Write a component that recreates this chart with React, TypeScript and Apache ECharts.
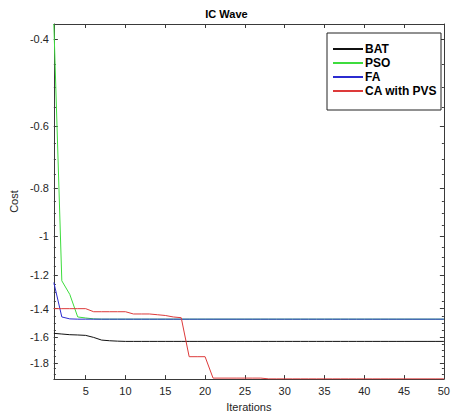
import React, { useEffect, useRef } from "react";
import * as echarts from "echarts";

const iterations = [
  1, 2, 3, 4, 5, 6, 7, 8, 9, 10, 11, 12, 13, 14, 15, 16, 17, 18, 19, 20, 21, 22, 23, 24, 25,
  26, 27, 28, 29, 30, 31, 32, 33, 34, 35, 36, 37, 38, 39, 40, 41, 42, 43, 44, 45, 46, 47, 48, 49, 50,
];

const bat = [
  -1.57, -1.575, -1.58, -1.582, -1.585, -1.6, -1.62, -1.625, -1.628, -1.63,
  -1.63, -1.63, -1.63, -1.63, -1.63, -1.63, -1.63, -1.63, -1.63, -1.63,
  -1.63, -1.63, -1.63, -1.63, -1.63, -1.63, -1.63, -1.63, -1.63, -1.63,
  -1.63, -1.63, -1.63, -1.63, -1.63, -1.63, -1.63, -1.63, -1.63, -1.63,
  -1.63, -1.63, -1.63, -1.63, -1.63, -1.63, -1.63, -1.63, -1.63, -1.63,
];

const pso = [
  -0.373, -1.23, -1.31, -1.455, -1.462, -1.468, -1.47, -1.47, -1.47, -1.47,
  -1.47, -1.47, -1.47, -1.47, -1.47, -1.47, -1.47, -1.47, -1.47, -1.47,
  -1.47, -1.47, -1.47, -1.47, -1.47, -1.47, -1.47, -1.47, -1.47, -1.47,
  -1.47, -1.47, -1.47, -1.47, -1.47, -1.47, -1.47, -1.47, -1.47, -1.47,
  -1.47, -1.47, -1.47, -1.47, -1.47, -1.47, -1.47, -1.47, -1.47, -1.47,
];

const fa = [
  -1.24, -1.455, -1.468, -1.47, -1.47, -1.47, -1.47, -1.47, -1.47, -1.47,
  -1.47, -1.47, -1.47, -1.47, -1.47, -1.47, -1.47, -1.47, -1.47, -1.47,
  -1.47, -1.47, -1.47, -1.47, -1.47, -1.47, -1.47, -1.47, -1.47, -1.47,
  -1.47, -1.47, -1.47, -1.47, -1.47, -1.47, -1.47, -1.47, -1.47, -1.47,
  -1.47, -1.47, -1.47, -1.47, -1.47, -1.47, -1.47, -1.47, -1.47, -1.47,
];

const caPvs = [
  -1.4, -1.4, -1.4, -1.4, -1.4, -1.42, -1.42, -1.42, -1.42, -1.42,
  -1.435, -1.435, -1.435, -1.44, -1.445, -1.455, -1.46, -1.75, -1.75, -1.75,
  -1.933, -1.933, -1.933, -1.933, -1.933, -1.933, -1.933, -1.94, -1.94, -1.94,
  -1.94, -1.94, -1.94, -1.94, -1.94, -1.94, -1.94, -1.94, -1.94, -1.94,
  -1.94, -1.94, -1.94, -1.94, -1.94, -1.94, -1.94, -1.94, -1.94, -1.94,
];

const xTicks = [5, 10, 15, 20, 25, 30, 35, 40, 45, 50];
const yMajorTicks = [-0.4, -0.6, -0.8, -1, -1.2, -1.4, -1.6, -1.8];
const yMinorTicks = [
  -0.4, -0.45, -0.5, -0.55, -0.6, -0.65, -0.7, -0.75, -0.8, -0.85, -0.9, -0.95, -1,
  -1.05, -1.1, -1.15, -1.2, -1.25, -1.3, -1.35, -1.4, -1.45, -1.5, -1.55, -1.6,
  -1.65, -1.7, -1.75, -1.8, -1.85, -1.9,
];
const yTop = -0.373;
const yBottom = -1.942;
const xMin = 1;
const xMax = 50;

// negative log-scale axis (as in the original figure): position = log10(|cost|)
const toLog = (v: number) => Math.log10(-v);

const FONT = "'Liberation Sans', Arial, Helvetica, sans-serif";
const AXIS_COLOR = "#3a3a3a";
const TEXT_COLOR = "#262626";

const seriesDefs = [
  { name: "BAT", values: bat, color: "#111111" },
  { name: "PSO", values: pso, color: "#3ddc3d" },
  { name: "FA", values: fa, color: "#2b2bd0" },
  { name: "CA with PVS", values: caPvs, color: "#dd3a3a" },
];

export default function App() {
  const ref = useRef<HTMLDivElement>(null);

  useEffect(() => {
    if (!ref.current) return;
    const chart = echarts.init(ref.current, undefined, { renderer: "svg" });

    const yCommon = {
      type: "value" as const,
      inverse: true,
      min: toLog(yTop),
      max: toLog(yBottom),
      splitLine: { show: false },
    };
    const lineOff = { onZero: false };

    const option: any = {
      animation: false,
      backgroundColor: "#ffffff",
      title: {
        text: "IC Wave",
        left: "center",
        top: 3,
        textStyle: { fontFamily: FONT, fontSize: 11, fontWeight: "bold", color: "#000" },
      },
      legend: {
        orient: "vertical",
        left: 327,
        top: 33,
        padding: [10, 4, 13, 5],
        itemGap: 2,
        itemWidth: 30,
        itemHeight: 12,
        borderColor: "#222",
        borderWidth: 1,
        backgroundColor: "#fff",
        itemStyle: { opacity: 0 },
        textStyle: { fontFamily: FONT, fontSize: 12, fontWeight: "bold", color: "#000", padding: [0, 0, 0, -3] },
        data: seriesDefs.map((s) => s.name),
      },
      grid: { left: 44, right: 5, top: 24, bottom: 36, containLabel: false },
      xAxis: [
        {
          type: "value",
          min: xMin,
          max: xMax,
          position: "bottom",
          name: "Iterations",
          nameLocation: "middle",
          nameGap: 21,
          nameTextStyle: { fontFamily: FONT, fontSize: 11, color: TEXT_COLOR },
          axisLine: { show: true, ...lineOff, lineStyle: { color: AXIS_COLOR, width: 1 } },
          axisTick: { show: true, inside: true, length: 4, customValues: xTicks, lineStyle: { color: AXIS_COLOR } },
          axisLabel: { show: true, customValues: xTicks, margin: 6, fontFamily: FONT, fontSize: 11, color: TEXT_COLOR },
          splitLine: { show: false },
        },
        {
          type: "value",
          min: xMin,
          max: xMax,
          position: "top",
          axisLine: { show: true, ...lineOff, lineStyle: { color: AXIS_COLOR, width: 1 } },
          axisTick: { show: true, inside: true, length: 4, customValues: xTicks, lineStyle: { color: AXIS_COLOR } },
          axisLabel: { show: false },
          splitLine: { show: false },
        },
      ],
      yAxis: [
        {
          ...yCommon,
          position: "left",
          name: "Cost",
          nameLocation: "middle",
          nameGap: 33,
          nameRotate: 90,
          nameTextStyle: { fontFamily: FONT, fontSize: 11, color: TEXT_COLOR },
          axisLine: { show: true, ...lineOff, lineStyle: { color: AXIS_COLOR, width: 1 } },
          axisTick: {
            show: true,
            inside: true,
            length: 4,
            customValues: yMajorTicks.map(toLog),
            lineStyle: { color: AXIS_COLOR },
          },
          axisLabel: {
            show: true,
            customValues: yMajorTicks.map(toLog),
            margin: 5,
            fontFamily: FONT,
            fontSize: 11,
            color: TEXT_COLOR,
            formatter: (v: number) => String(Math.round(-Math.pow(10, v) * 10) / 10),
          },
        },
        {
          ...yCommon,
          position: "left",
          axisLine: { show: false, ...lineOff },
          axisTick: {
            show: true,
            inside: true,
            length: 2,
            customValues: yMinorTicks.map(toLog),
            lineStyle: { color: AXIS_COLOR },
          },
          axisLabel: { show: false },
        },
        {
          ...yCommon,
          position: "right",
          axisLine: { show: true, ...lineOff, lineStyle: { color: AXIS_COLOR, width: 1 } },
          axisTick: {
            show: true,
            inside: true,
            length: 4,
            customValues: yMajorTicks.map(toLog),
            lineStyle: { color: AXIS_COLOR },
          },
          axisLabel: { show: false },
        },
        {
          ...yCommon,
          position: "right",
          axisLine: { show: false, ...lineOff },
          axisTick: {
            show: true,
            inside: true,
            length: 2,
            customValues: yMinorTicks.map(toLog),
            lineStyle: { color: AXIS_COLOR },
          },
          axisLabel: { show: false },
        },
      ],
      series: seriesDefs.map((s) => ({
        name: s.name,
        type: "line",
        xAxisIndex: 0,
        yAxisIndex: 0,
        symbol: "none",
        showSymbol: false,
        color: s.color,
        lineStyle: { color: s.color, width: 1 },
        data: s.values.map((v, i) => [iterations[i], toLog(v)]),
      })),
    };

    chart.setOption(option);
    return () => chart.dispose();
  }, []);

  return (
    <div
      ref={ref}
      style={{ position: "fixed", left: 0, top: 0, width: 453, height: 417, background: "#fff" }}
    />
  );
}
